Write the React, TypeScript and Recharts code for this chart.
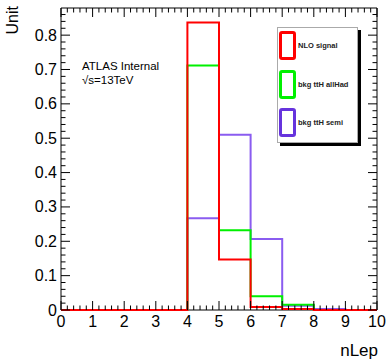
import { ComposedChart, Line, XAxis, YAxis, ReferenceArea, Legend } from 'recharts'

// bin edges 0..10, one value per bin (normalised to unit area)
const binEdges = [0, 1, 2, 3, 4, 5, 6, 7, 8, 9, 10]
const nloSignal = [0, 0, 0, 0, 0.837, 0.147, 0.009, 0.003, 0, 0]
const bkgAllHad = [0, 0, 0, 0, 0.712, 0.232, 0.04, 0.0155, 0, 0]
const bkgSemi = [0, 0, 0, 0, 0.267, 0.51, 0.207, 0.0125, 0.003, 0]

const xLabels = ['0', '1', '2', '3', '4', '5', '6', '7', '8', '9', '10']
const yLabels = ['0', '0.1', '0.2', '0.3', '0.4', '0.5', '0.6', '0.7', '0.8']

const series = [
  { key: 'sig', name: 'NLO signal', color: '#ff0000', legend: '#ff0000' },
  { key: 'had', name: 'bkg ttH allHad', color: '#00f000', legend: '#00f000' },
  { key: 'semi', name: 'bkg ttH semi', color: '#8a5cf0', legend: '#6633dd' },
]

const W = 387
const H = 360
const PL = 61
const PR = 377
const PT = 8
const PB = 310
const YMAX = 0.879
const FONT = '"Liberation Sans", Arial, sans-serif'

const data = binEdges.map((x, i) => {
  const b = Math.min(i, nloSignal.length - 1)
  return { x, sig: nloSignal[b], had: bkgAllHad[b], semi: bkgSemi[b] }
})

// ROOT style: 5 subdivisions per major tick
const xTicks = Array.from({ length: 51 }, (_, i) => i / 5)
const yTicks = Array.from({ length: 44 }, (_, i) => +(i * 0.02).toFixed(2))

function XTick(props: any) {
  const { x, payload } = props
  const v = payload.value as number
  const major = Math.abs(v - Math.round(v)) < 1e-6
  const len = major ? 9 : 4.5
  return (
    <g>
      <line x1={x} x2={x} y1={PB} y2={PB - len} stroke="#000" />
      <line x1={x} x2={x} y1={PT} y2={PT + len} stroke="#000" />
      {major && (
        <text x={x} y={PB + 17} textAnchor="middle" fontSize={16} fill="#000" fontFamily={FONT}>
          {xLabels[Math.round(v)]}
        </text>
      )}
    </g>
  )
}

function YTick(props: any) {
  const { y, payload } = props
  const v = payload.value as number
  const major = Math.abs(v * 10 - Math.round(v * 10)) < 1e-6
  const len = major ? 9 : 4.5
  return (
    <g>
      <line x1={PL} x2={PL + len} y1={y} y2={y} stroke="#000" />
      <line x1={PR} x2={PR - len} y1={y} y2={y} stroke="#000" />
      {major && (
        <text x={57} y={y} textAnchor="end" dominantBaseline="central" fontSize={16} fill="#000" fontFamily={FONT}>
          {yLabels[Math.round(v * 10)]}
        </text>
      )}
    </g>
  )
}

function LegendBox() {
  return (
    <div
      style={{
        width: 79,
        height: 114,
        background: '#fff',
        border: '1px solid #aaa',
        boxShadow: '3px 3px 0 #000',
        position: 'relative',
        fontFamily: FONT,
      }}
    >
      {series.map((s, i) => (
        <div key={s.key} style={{ position: 'absolute', left: 1, top: 3 + i * 38.5, display: 'flex', alignItems: 'center' }}>
          <div
            style={{
              width: 11,
              height: 23,
              border: `3px solid ${s.legend}`,
              borderRadius: 3,
            }}
          />
          <span style={{ marginLeft: 2, fontSize: 7.5, fontWeight: 'bold', color: '#222', whiteSpace: 'nowrap' }}>
            {s.name}
          </span>
        </div>
      ))}
    </div>
  )
}

export default function App() {
  return (
    <div style={{ position: 'absolute', left: 0, top: 0, width: W, height: H, background: '#fff' }}>
      <ComposedChart width={W} height={H} data={data} margin={{ top: PT, right: W - PR, left: 0, bottom: 0 }}>
        <XAxis
          dataKey="x"
          type="number"
          domain={[0, 10]}
          ticks={xTicks}
          interval={0}
          axisLine={false}
          tickLine={false}
          tick={<XTick />}
          height={H - PB}
        />
        <YAxis
          type="number"
          domain={[0, YMAX]}
          ticks={yTicks}
          interval={0}
          axisLine={false}
          tickLine={false}
          tick={<YTick />}
          width={PL}
        />
        <ReferenceArea x1={0} x2={10} y1={0} y2={YMAX} fill="none" stroke="#000" strokeWidth={1} />
        {[...series].reverse().map((s) => (
          <Line
            key={s.key}
            type="stepAfter"
            dataKey={s.key}
            stroke={s.color}
            strokeWidth={2}
            dot={false}
            isAnimationActive={false}
          />
        ))}
        <Legend
          layout="horizontal"
          verticalAlign="middle"
          align="center"
          content={() => <LegendBox />}
          wrapperStyle={{ left: 277, top: 27, width: 81, height: 116 }}
        />
      </ComposedChart>
      <svg
        width={W}
        height={H}
        style={{ position: 'absolute', left: 0, top: 0, pointerEvents: 'none' }}
        fontFamily={FONT}
      >
        <text x={82} y={70} fontSize={11.5} fill="#000">ATLAS Internal</text>
        <text x={82} y={84} fontSize={11.5} fill="#000">√s=13TeV</text>
        <text transform="translate(18,6) rotate(-90)" textAnchor="end" fontSize={16} fill="#000">Unit</text>
        <text x={378} y={356} textAnchor="end" fontSize={17} fill="#000">nLep</text>
      </svg>
    </div>
  )
}
